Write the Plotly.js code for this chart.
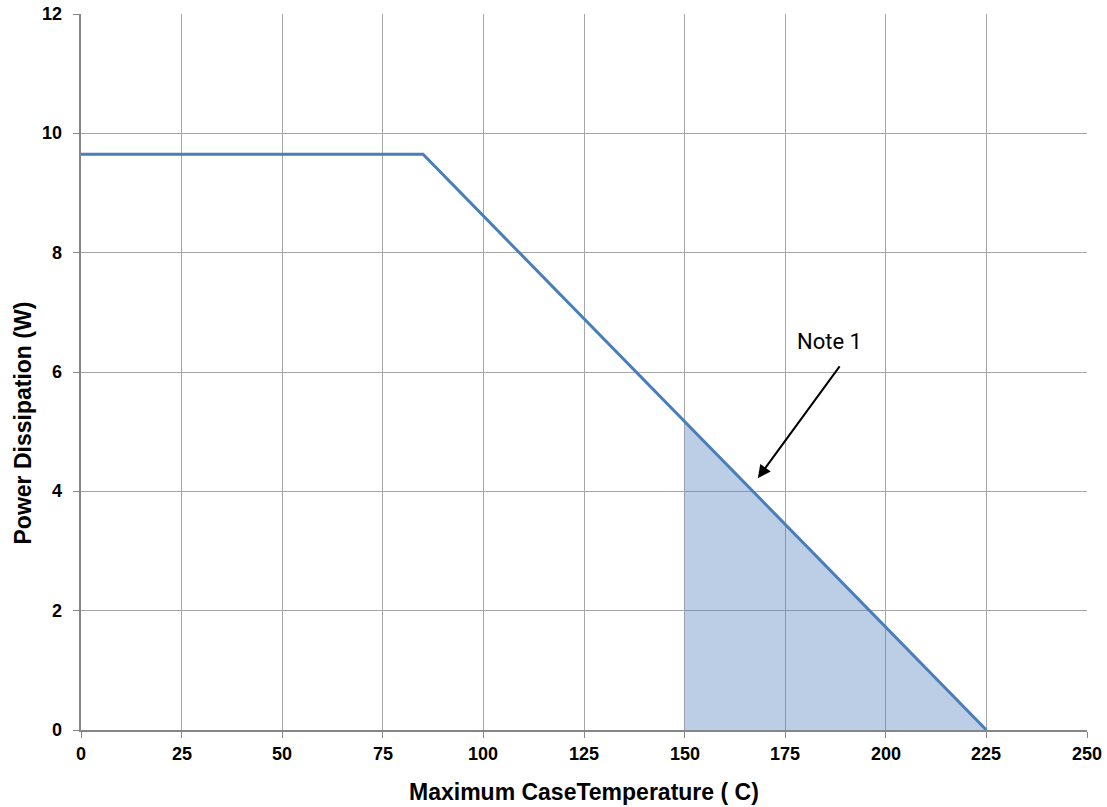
<!DOCTYPE html>
<html>
<head>
<meta charset="utf-8">
<script src="https://cdn.plot.ly/plotly-3.0.1.min.js"></script>
<style>html,body{margin:0;padding:0;background:#fff;}#chart{width:1107px;height:807px;}</style>
</head>
<body>
<div id="chart"></div>
<script>
// Derating curve
const temps = [0, 85, 225];
const power = [9.65, 9.65, 0];
// Shaded region (Note 1)
const shadeTemps = [150, 225];
const shadePower = [5.17, 0];
// Ticks
const xTicks = [0, 25, 50, 75, 100, 125, 150, 175, 200, 225, 250];
const yTicks = [0, 2, 4, 6, 8, 10, 12];
const xTitle = 'Maximum CaseTemperature ( C)';
const yTitle = 'Power Dissipation (W)';
const noteText = 'Note 1';
const noteArrowHead = [168.2, 4.22];
const noteArrowTail = [188.8, 6.12];
const notePos = [186.1, 6.51];

const traces = [
  {
    x: shadeTemps, y: shadePower, type: 'scatter', mode: 'none',
    fill: 'tozeroy', fillcolor: 'rgba(79,129,189,0.39)', hoverinfo: 'skip', showlegend: false
  },
  {
    x: temps, y: power, type: 'scatter', mode: 'lines',
    line: {color: '#4a7ebb', width: 3}, showlegend: false
  }
];

const titleFont = {family: 'Liberation Sans', size: 23, color: '#000', weight: 700};
const tickFont = {family: 'Liberation Sans', size: 18, color: '#000', weight: 700};

// Tick labels placed through the axes' own scales
const xTickLabels = xTicks.map(v => ({
  x: v, y: -0.034, xref: 'x', yref: 'paper', xanchor: 'center', yanchor: 'middle',
  text: String(v), showarrow: false, font: tickFont
}));
const yTickLabels = yTicks.map(v => ({
  x: -0.0165, y: v, xref: 'paper', yref: 'y', xanchor: 'right', yanchor: 'middle',
  text: String(v), showarrow: false, font: tickFont
}));

const layout = {
  width: 1107, height: 807,
  margin: {l: 81, r: 20, t: 14, b: 77},
  paper_bgcolor: '#fff', plot_bgcolor: '#fff',
  showlegend: false,
  xaxis: {
    range: [0, 250], tickvals: xTicks, showticklabels: false,
    ticks: 'outside', ticklen: 6,
    showgrid: true, gridcolor: '#a6a6a6',
    showline: true, linecolor: '#868686', linewidth: 2, tickcolor: '#868686',
    zeroline: false
  },
  yaxis: {
    range: [0, 12], tickvals: yTicks, showticklabels: false,
    ticks: 'outside', ticklen: 6,
    showgrid: true, gridcolor: '#a6a6a6',
    showline: true, linecolor: '#868686', linewidth: 2, tickcolor: '#868686',
    zeroline: false
  },
  annotations: [
    {
      x: noteArrowHead[0], y: noteArrowHead[1], xref: 'x', yref: 'y',
      ax: noteArrowTail[0], ay: noteArrowTail[1], axref: 'x', ayref: 'y',
      text: '', showarrow: true, arrowhead: 2, arrowsize: 1.3, arrowwidth: 2, arrowcolor: '#000'
    },
    {
      x: notePos[0], y: notePos[1], xref: 'x', yref: 'y',
      text: noteText, showarrow: false,
      font: {family: 'Roboto', size: 22, color: '#000', weight: 400}
    },
    {
      x: 0.5, y: -0.087, xref: 'paper', yref: 'paper', xanchor: 'center', yanchor: 'middle',
      text: xTitle, showarrow: false, font: titleFont
    },
    {
      x: -0.058, y: 0.429, xref: 'paper', yref: 'paper', xanchor: 'center', yanchor: 'middle',
      text: yTitle, textangle: -90, showarrow: false, font: titleFont
    }
  ].concat(xTickLabels, yTickLabels)
};

Plotly.newPlot('chart', traces, layout, {displayModeBar: false, staticPlot: true});
</script>
</body>
</html>
